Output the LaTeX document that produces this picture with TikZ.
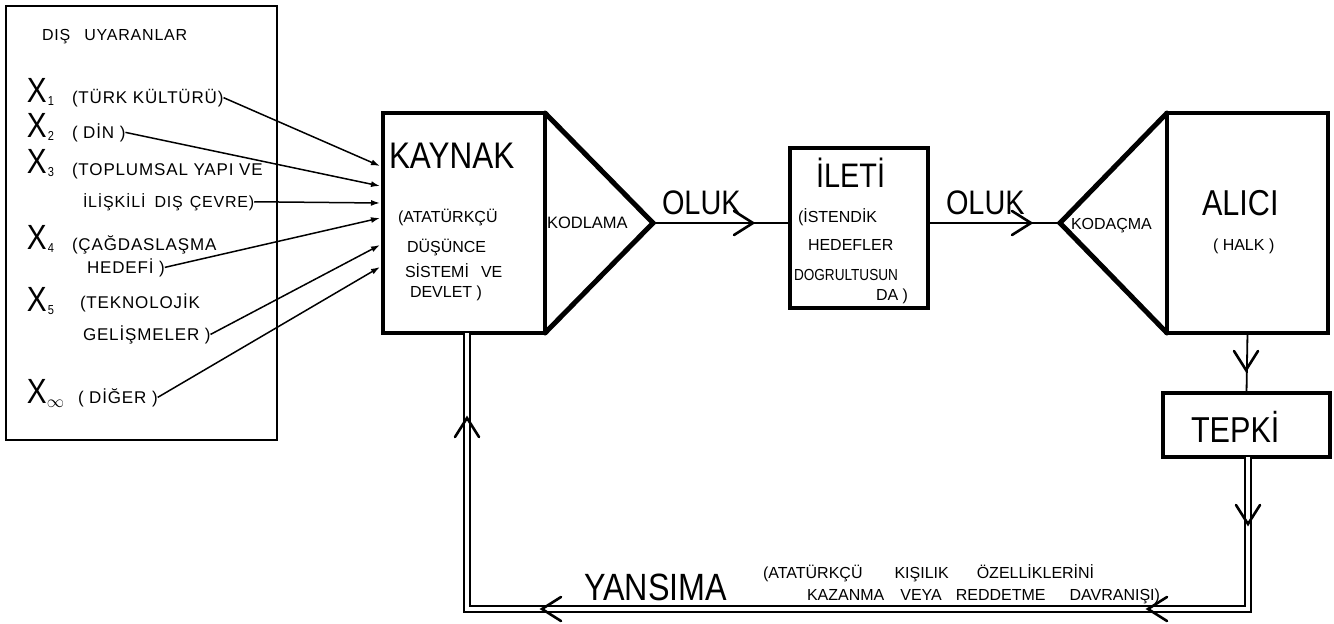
\documentclass[tikz,border=0pt]{standalone}
\usepackage{fontspec}
\setmainfont{Liberation Sans}
\newfontfamily\dinn[FakeStretch=0.85]{Liberation Sans}
\newfontfamily\spcd[LetterSpace=5]{Liberation Sans}
\usetikzlibrary{arrows.meta}
\begin{document}
\begin{tikzpicture}[x=1pt,y=-1pt,
  every node/.style={inner sep=0pt, outer sep=0pt},
  blk/.style={draw, line width=4.5pt, line join=miter},
  tri/.style={line width=5pt, line join=miter, line cap=round},
  bigt/.style={font=\dinn\fontsize{37}{37}\selectfont, anchor=base west},
  midt/.style={font=\dinn\fontsize{34}{34}\selectfont, anchor=base west},
  subt/.style={font=\fontsize{16}{16}\selectfont, anchor=base west},
  subn/.style={font=\dinn\fontsize{16}{16}\selectfont, anchor=base west},
  lbx/.style={font=\spcd\fontsize{17}{17}\selectfont, anchor=base west},
  xlab/.style={font=\dinn\fontsize{35}{35}\selectfont, anchor=base west},
  inarr/.style={line width=1.5pt, -{Latex[length=9pt,width=6pt]}},
  flow/.style={line width=1.8pt},
  dbl/.style={double, double distance=4.5pt, line width=1.3pt, line join=miter},
  chev/.pic={\draw[line width=2.6pt, line cap=round, line join=miter] (-19,-12) -- (0,0) -- (-19,12);}
]
\useasboundingbox (0,0) rectangle (1334,624);
\fill[white] (0,0) rectangle (1334,624);

% ---------- left box: external stimuli ----------
\node[draw, line width=2.5pt, minimum width=271pt, minimum height=434pt] (dis) at (141.5,223) {};
\node[lbx, font=\spcd\fontsize{16}{16}\selectfont] (baslik) at (42,40) {DIŞ\hspace{14pt}UYARANLAR};

\node[xlab] (x1) at (27,102) {X\kern1pt\raisebox{-3pt}{\fontsize{13}{13}\selectfont 1}};
\node[lbx] (t1) at (72,103) {(TÜRK KÜLTÜRÜ)};
\node[xlab] (x2) at (27,137) {X\kern1pt\raisebox{-3pt}{\fontsize{13}{13}\selectfont 2}};
\node[lbx] (t2) at (72,138) {( DİN )};
\node[xlab] (x3) at (27,173) {X\kern1pt\raisebox{-3pt}{\fontsize{13}{13}\selectfont 3}};
\node[lbx] (t3) at (72,175) {(TOPLUMSAL YAPI VE};
\node[lbx, font=\spcd\fontsize{16}{16}\selectfont] (t3b) at (83,207) {İLİŞKİLİ\hspace{9pt}DIŞ\hspace{7pt}ÇEVRE)};
\node[xlab] (x4) at (27,249) {X\kern1pt\raisebox{-3pt}{\fontsize{13}{13}\selectfont 4}};
\node[lbx] (t4) at (72,250) {(ÇAĞDASLAŞMA};
\node[lbx] (t4b) at (87,273) {HEDEFİ )};
\node[xlab] (x5) at (27,311) {X\kern1pt\raisebox{-3pt}{\fontsize{13}{13}\selectfont 5}};
\node[lbx] (t5) at (80,308) {(TEKNOLOJİK};
\node[lbx] (t5b) at (83,340) {GELİŞMELER )};
\node[xlab] (x6) at (27,403) {X\kern0pt\raisebox{-4pt}{\fontsize{17}{17}\selectfont$\infty$}};
\node[lbx] (t6) at (78,403) {( DİĞER )};

% ---------- KAYNAK ----------
\node[blk, minimum width=162pt, minimum height=220pt] (kaynak) at (464,223) {};
\node[bigt] (kaynakt) at (389,168) {KAYNAK};
\node[subt] (k1) at (398,222) {(ATATÜRKÇÜ};
\node[subt] (k2) at (407,252) {DÜŞÜNCE};
\node[subt] (k3) at (405,277) {SİSTEMİ\hspace{12pt}VE};
\node[subt] (k4) at (410,297) {DEVLET )};

\coordinate (kodapex) at (653,223);
\draw[tri] (kaynak.north east) -- (kodapex) -- (kaynak.south east);
\node[font=\fontsize{16.5}{16.5}\selectfont, anchor=base west] (kodlama) at (547,228) {KODLAMA};

% input arrows
\coordinate (in1) at (380,166);
\coordinate (in2) at (380,186);
\coordinate (in3) at (380,203);
\coordinate (in4) at (380,218);
\coordinate (in5) at (380,245);
\coordinate (in6) at (380,267);
\draw[inarr] (t1.east) -- (in1);
\draw[inarr] (t2.east) -- (in2);
\draw[inarr] (t3b.east) -- (in3);
\draw[inarr] (t4b.east) -- (in4);
\draw[inarr] (t5b.east) -- (in5);
\draw[inarr] (t6.east) -- (in6);

% ---------- ILETI ----------
\node[blk, line width=4pt, minimum width=138pt, minimum height=160pt] (ileti) at (859,228) {};
\node[midt] (iletit) at (816,187) {İLETİ};
\node[subt] (i1) at (798,222) {(İSTENDİK};
\node[subt] (i2) at (808,250) {HEDEFLER};
\node[subn] (i3) at (794,280) {DOGRULTUSUN};
\node[subt] (i4) at (876,300) {DA )};

\draw[flow] (kodapex) -- (kodapex -| ileti.west);
\node[midt] (oluk1) at (662,214) {OLUK};
\pic at (753,223) {chev};

% ---------- ALICI ----------
\node[blk, minimum width=161pt, minimum height=220pt] (alici) at (1247.5,223) {};
\coordinate (kodapex2) at (1060,223);
\draw[tri] (alici.north west) -- (kodapex2) -- (alici.south west);
\node[font=\fontsize{16}{16}\selectfont, anchor=base west] (kodacma) at (1071,229) {KODAÇMA};
\node[font=\dinn\fontsize{36}{36}\selectfont, anchor=base west] (alicit) at (1202,215) {ALICI};
\node[subt] (halk) at (1213,250) {( HALK )};

\draw[flow] (kodapex2 -| ileti.east) -- (kodapex2);
\node[midt] (oluk2) at (946,214) {OLUK};
\pic at (1031,223) {chev};

% ---------- TEPKI ----------
\node[blk, minimum width=167pt, minimum height=64pt] (tepki) at (1246.5,425) {};
\node[font=\dinn\fontsize{36}{36}\selectfont, anchor=base west] (tepkit) at (1191,442) {TEPKİ};
\draw[flow] (alici.south) -- (tepki.north);
\pic[rotate=-90] at (1246,370) {chev};

% ---------- feedback (YANSIMA) ----------
\coordinate (fbl) at (467,609);
\coordinate (fbr) at (1248,609);
\draw[dbl] (tepki.south -| fbr) -- (fbr) -- (fbl) -- (kaynak.south -| fbl);
\pic[rotate=-90] at (1248,524) {chev};
\pic[rotate=180] at (1148,609) {chev};
\pic[rotate=180] at (542,609) {chev};
\pic[rotate=90] at (467,418) {chev};

\node[font=\dinn\fontsize{38}{38}\selectfont, anchor=base west] (yansima) at (584,600) {YANSIMA};
\node[subt] (y1) at (763,578) {(ATATÜRKÇÜ\hspace{32pt}KIŞILIK\hspace{28pt}ÖZELLİKLERİNİ};
\node[subt] (y2) at (807,600) {KAZANMA\hspace{16pt}VEYA\hspace{14pt}REDDETME\hspace{24pt}DAVRANIŞI)};
\end{tikzpicture}
\end{document}
